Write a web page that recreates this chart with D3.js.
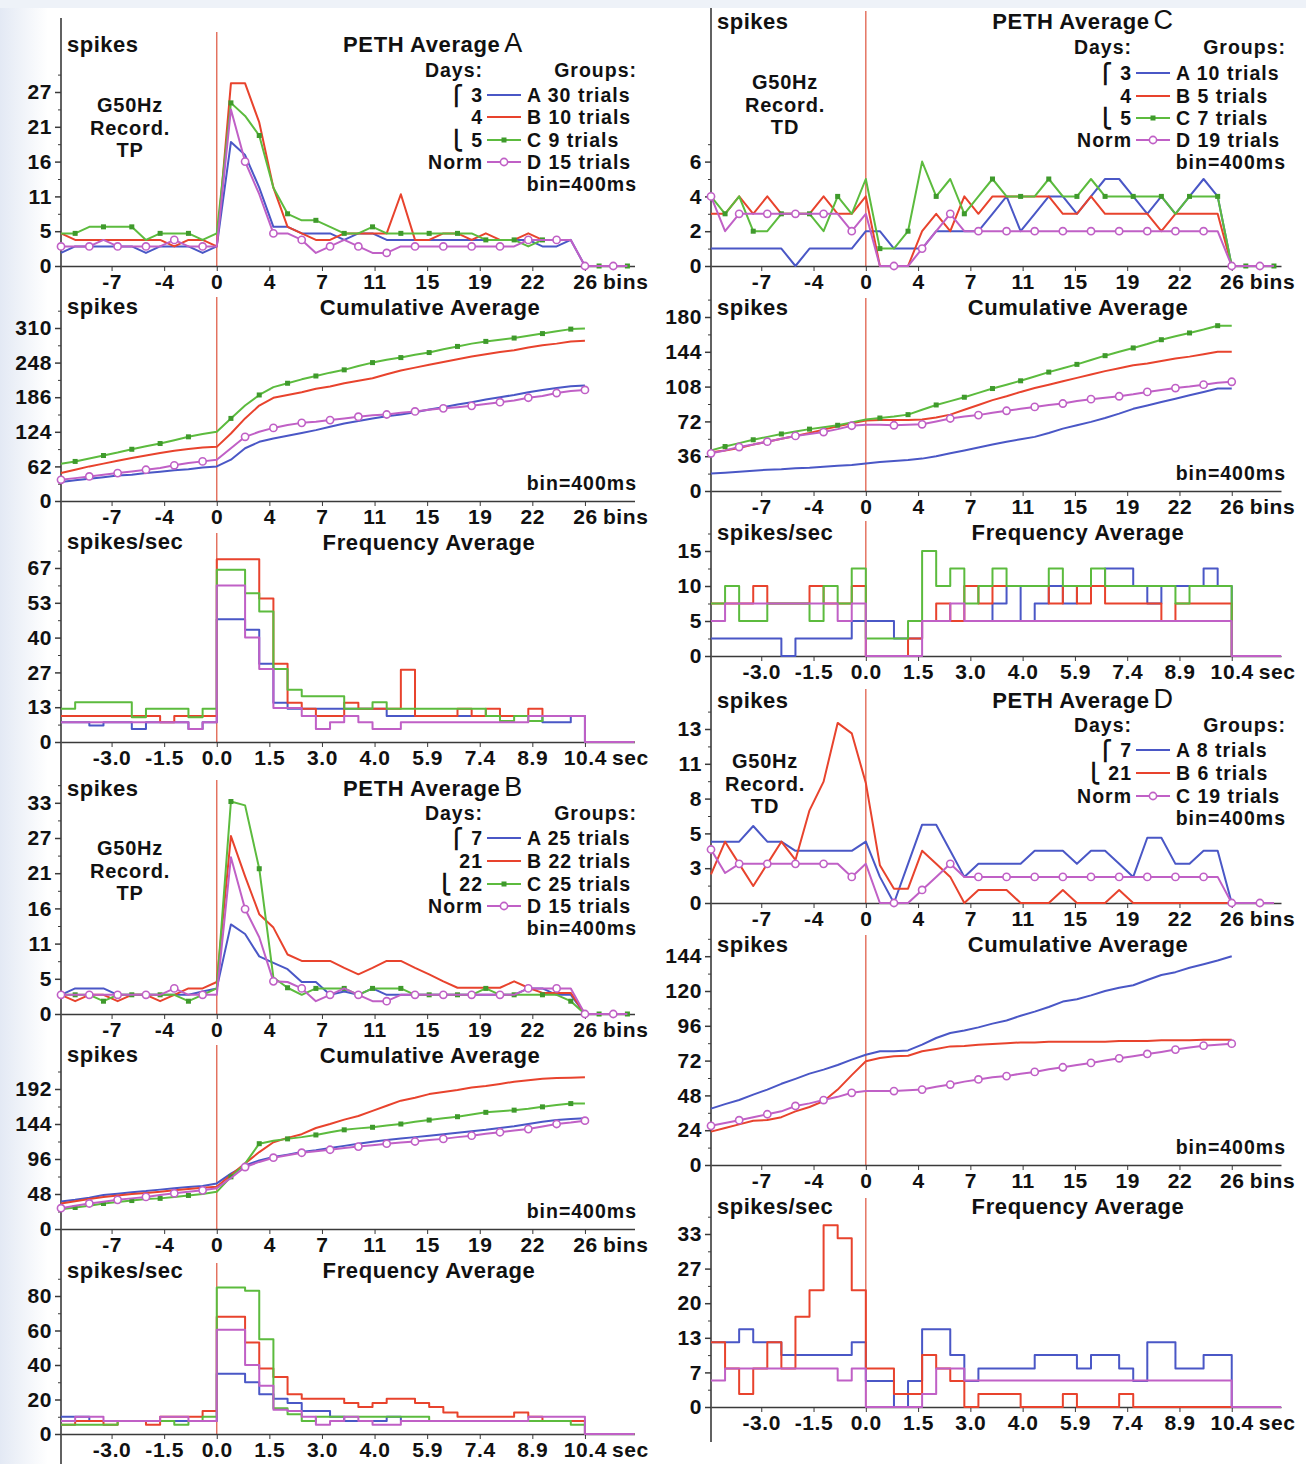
<!DOCTYPE html>
<html><head><meta charset="utf-8">
<script src="https://cdn.jsdelivr.net/npm/d3@7"></script>
<style>
body{margin:0;background:#fff;}
svg text{font-family:"Liberation Sans",Arial,"DejaVu Sans",sans-serif;font-weight:bold;fill:#111;}
</style></head><body>
<svg id="c" width="1306" height="1464"></svg>
<script>
// ---------- tick labels ----------
const binTickLabels = ["-7","-4","0","4","7","11","15","19","22","26"];
const secTickLabels = ["-3.0","-1.5","0.0","1.5","3.0","4.0","5.9","7.4","8.9","10.4"];
const yTicksPethA = ["0","5","11","16","21","27"];
const yTicksCumA  = ["0","62","124","186","248","310"];
const yTicksFreqA = ["0","13","27","40","53","67"];
const yTicksPethB = ["0","5","11","16","21","27","33"];
const yTicksCumB  = ["0","48","96","144","192"];
const yTicksFreqB = ["0","20","40","60","80"];
const yTicksPethC = ["0","2","4","6"];
const yTicksCumC  = ["0","36","72","108","144","180"];
const yTicksFreqC = ["0","5","10","15"];
const yTicksPethD = ["0","3","5","8","11","13"];
const yTicksCumD  = ["0","24","48","72","96","120","144"];
const yTicksFreqD = ["0","7","13","20","27","33"];

// ---------- PETH A (bins -11..29) ----------
const pethA_A = [2,3,3,3,3,3,2,3,3,3,2,3, 19,17,12,6,6,5,5,5,4,5,5,4,4,4,4,4,4,4,4,4,4,4,3,3,4,0,0,0,0];
const pethA_B = [5,4,4,4,4,4,4,4,3,4,4,3, 28,28,22,12,6,5,4,4,5,5,5,5,11,4,4,5,5,4,5,4,4,5,4,null,null,0,0,0,0];
const pethA_C = [5,5,6,6,6,6,4,5,5,5,4,5, 25,23,20,12,8,7,7,6,5,5,6,5,5,5,5,5,5,5,4,4,4,3,4,null,null,0,0,0,0];
const pethA_D = [3,3,3,4,3,3,3,3,4,3,3,3, 24,16,11,5,5,4,2,3,4,3,2,2,3,3,3,3,3,3,3,3,3,4,4,4,4,0,0,0,0];
// ---------- Cumulative A (bins -11..26) ----------
const cumA_A = [34,37,40,42.5,45.5,47,50,52.5,55,57,60,62, 74,94.5,106,112,117,122,127,133,139,143.5,148,152,155,159,164,168,173,177,182,186,190,195,199,202.5,205.5,207];
const cumA_B = [50,56,62,67,72,77,81.5,86,90,93,96,97, 121,148,171,185,190,195,201,205,211,215.5,220,227,234,239,244,249,254,259,263,267,270,275,279,282,286,287];
const cumA_C = [66.7,70.9,76,81.5,86.8,92.7,98,103,109,115,120,124, 148,171,190,204,211,218,224,230,235,242,248,253,257,262,266,272,277,282,286,289,292,296,300,304,308,309];
const cumA_D = [38,41,44,47,50,53,56,59,64,68,71,74, 94.5,115,124,131,136,140,142,145,148,151,153.5,155,158,160.5,163.5,166,168,170.5,174,177,180,185,188,193.5,197,199];
// ---------- Frequency A (bins -11..29) ----------
const freqA_A = [7.6,7.6,6.3,7.6,7.6,5,7.6,7.6,7.6,5,7.6, 47,47,43,30,15,12.7,12.7,12.7,12.7,12.7,12.7,12.7,10,10,10,10,10,10,10,10,10,10,10,7.6,7.6,10, 0,0,0,0];
const freqA_B = [10,10,10,10,10,10,10,7.6,10,10,10, 70,70,70,55,30,15,12.7,10,10,15,12.7,12.7,12.7,27.7,10,10,10,12.7,10,12.7,10,10,12.7,10,null,null, 0,0,0,0];
const freqA_C = [12.7,15.2,15.2,15.2,15.2,9.5,12.7,12.7,12.7,9.5,12.7, 66,66,57,50,28,20,17.5,17.5,17.5,12.7,12.7,15.2,12.7,12.7,12.7,12.7,12.7,12.7,12.7,10,8,10,8,10,null,null, 0,0,0,0];
const freqA_D = [7.6,7.6,7.6,7.6,7.6,7.6,7.6,7.6,7.6,5,7.6, 60,60,40,28,13,13,10,5,7.6,10,7.6,5,5,7.6,7.6,7.6,7.6,7.6,7.6,7.6,7.6,7.6,10,10,10,10, 0,0,0,0];

// ---------- PETH B ----------
const pethB_A = [3,4,4,4,3,3,3,3,3,3,3.5,4, 14,12.5,9,8,7,5,5,3,3.5,3,4,3,3,3,3,3,3,3,3,3,3,4,4,3,3,0,0,0,0];
const pethB_B = [3,2,3,3,2,3,3,2,3,4,4,5, 27.8,21.5,15.6,13.5,9.3,8.3,8.3,8.3,7.2,6.2,7.2,8.3,8.3,7.2,6.2,5.1,4.1,4.1,4.1,4.1,5.1,4.1,3.3,3.3,3.3,0,0,0,0];
const pethB_C = [3,3,3,2,3,3,3,3,3,2,3,4, 33.2,32.6,22.7,5.7,4.1,3,4,4,4,3,4,4,4,3,3,3,3,3,4,3,3,3,3,3,2,0,0,0,0];
const pethB_D = [3,3,3,3,3,3,3,3,4,3,3,3, 24.5,16.4,12,5.1,5,4,2,3,4,3,2,2,3,3,3,3,3,3,3,3,3,4,4,4,4,0,0,0,0];
// ---------- Cumulative B ----------
const cumB_A = [37.6,40,43,46.6,48.5,50.5,52,54,56,57.5,59,62.5, 76,87,94,98.7,102,105.5,108,111,114,117,119.5,122,124,126,128,130,132,134,136,138.5,141,144,147,149.4,151,152];
const cumB_B = [35,38,41,44,46,48,49.5,51,53,55,56.5,58, 74,90,105.5,119,125,130,138.5,144,150,155,162,169,176,180,185,188,190.6,194,196,199,202,204,206,207,207.4,208];
const cumB_C = [27,29.5,32,35,37,39,41,42,44,46,48,51, 71.5,89.6,117,121,123.6,126,129,132.7,136,138,139.5,142,144,147,149.4,152,154,157,160,161.5,163,165,167.5,170,172,172];
const cumB_D = [28.5,32,35,37.5,40,42,44,46.5,49,51,53,56, 70,85,92,97.8,101,104.6,106.5,108.7,111,113,115,117,118.5,120,122,123.6,126,128,130.5,132.7,135,137,140.5,144,146,148.5];
// ---------- Frequency B ----------
const freqB_A = [10,10,7.6,7.6,7.6,7.6,7.6,7.6,7.6,7.6,7.6, 35,35,30,23,20.5,18,13.3,13.3,10,7.6,7.6,7.6,10,7.6,7.6,7.6,7.6,7.6,7.6,7.6,7.6,7.6,7.6,7.6,7.6,7.6, 0,0,0,0];
const freqB_B = [5.3,7.6,7.6,5.3,7.6,7.6,5.3,10,10,10,13.3, 68,68,53,38,33,23,20.5,20.5,20.5,18,15.6,18,20.5,20.5,18,15.6,12.4,10,10,10,10,12.4,10,7.6,7.6,7.6, 0,0,0,0];
const freqB_C = [5.3,5.3,5.3,5.3,7.6,7.6,7.6,7.6,5.3,7.6,10, 85,85,83,55,15,11.4,7.6,10,10,10,10,10,10,10,10,7.6,7.6,7.6,7.6,7.6,7.6,7.6,7.6,7.6,7.6,5.3, 0,0,0,0];
const freqB_D = [7.6,10,10,7.6,7.6,7.6,7.6,10,10,7.6,7.6, 60.4,60.4,40,28,14,13.3,10,5.3,7.6,10,7.6,5.3,5.3,7.6,7.6,7.6,7.6,7.6,7.6,7.6,7.6,7.6,10,10,10,10, 0,0,0,0];

// ---------- PETH C ----------
const pethC_A = [1,1,1,1,1,1,0,1,1,1,1,2, 2,1,1,1,2,2,2,2,3,4,2,3,4,4,3,4,5,5,4,3,4,3,4,5,4,0,0,0,0];
const pethC_B = [3,3,4,3,4,3,3,3,4,3,3,4, 0,0,0,2,3,2,4,3,4,4,4,4,4,3,3,4,3,3,3,3,2,3,3,3,3,0,0,0,0];
const pethC_C = [4,3,4,2,2,3,3,3,2,4,3,5, 1,1,2,6,4,5,3,4,5,4,4,4,5,4,4,5,4,4,4,4,4,3,4,4,4,0,0,0,0];
const pethC_D = [4,2,3,3,3,3,3,3,3,3,2,3, 0,0,0,1,2,3,2,2,2,2,2,2,2,2,2,2,2,2,2,2,2,2,2,2,2,0,0,0,0];
// ---------- Cumulative C ----------
const cumC_A = [18,19,20,21,22,22.5,23.5,24,25,26,27,28.5, 30,31,32,33.5,36,39,42,45,48,51,53.5,56,60,64.5,68,71.5,75.5,80,85,88.5,92,95.5,99,102.5,106,106];
const cumC_B = [40,42,44.5,48,51,54,57,60,63.5,67,70,73, 73.5,73.5,73.5,74,76,79,84,89,94,98,102.5,106.5,110,113.5,117,120.5,124,127,130,132,134.5,137,139,141.5,144,144];
const cumC_C = [42,46,49.5,53,56,59,61.5,64,66,68,71,74, 75.5,77,79,84,89,93,97,101.5,106,110,114,118.5,123,127,131,135.5,140,144,148,152,156.5,160,163.5,167,171,171];
const cumC_D = [39,42,45.5,48,51,54,57,59,61,64,67.5,68.5, 68.5,68,68.5,69,72,75,77,78.5,81,83,85,87,89,90.5,93,95,96.5,98,100,102.5,104.5,106.5,108,110,112,113];
// ---------- Frequency C ----------
const freqC_A = [2.5,2.5,2.5,2.5,2.5,0,2.5,2.5,2.5,2.5,5, 5,5,2.5,2.5,5,5,5,5,5,7.5,10,5,7.5,10,7.5,10,10,12.5,12.5,10,7.5,10,10,10,12.5,10, 0,0,0,0];
const freqC_B = [7.5,7.5,7.5,10,7.5,7.5,7.5,10,7.5,7.5,10, 0,0,0,2.5,5,7.5,5,10,7.5,10,10,10,10,7.5,10,7.5,10,7.5,7.5,7.5,7.5,5,7.5,7.5,7.5,7.5, 0,0,0,0];
const freqC_C = [7.5,10,5,5,7.5,7.5,7.5,5,10,7.5,12.5, 2.5,2.5,2.5,5,15,10,12.5,7.5,10,12.5,10,10,10,12.5,10,10,12.5,10,10,10,10,10,7.5,10,10,10, 0,0,0,0];
const freqC_D = [5,7.5,7.5,7.5,7.5,7.5,7.5,7.5,7.5,5,7.5, 0,0,0,0,5,5,7.5,5,5,5,5,5,5,5,5,5,5,5,5,5,5,5,5,5,5,5, 0,0,0,0];

// ---------- PETH D ----------
const pethD_A = [4.7,4.7,4.7,5.9,4.7,4.7,4,4,4,4,4,4.7, 2,0,3,6,6,4,2,3,3,3,3,4,4,4,3,4,4,3,2,5,5,3,3,4,4,0,0,0,0];
const pethD_B = [2.2,4.7,3,1.3,3,4.7,3.3,7.1,9.3,13.8,13,9.2, 2.9,1.1,1.1,4,3,2,0,1,1,1,0,0,0,1,0,0,0,1,0,0,0,0,0,0,0,0,0,0,0];
const pethD_C = [4.1,2.3,3,3,3,3,3,3,3,3,2,3, 0,0,0,1,2,3,2,2,2,2,2,2,2,2,2,2,2,2,2,2,2,2,2,2,2,0,0,0,0];
// ---------- Cumulative D ----------
const cumD_A = [38.9,42,44.8,48.5,52,56,59.4,63,65.8,69,72.7,76, 78.4,78.5,79,83,87.6,91,92.8,94.9,97.5,99.7,102.9,105.8,109,112.7,114.3,117,120,122.3,124,127.6,131,133,136,138.5,141,144];
const cumD_B = [23,25.5,28,30.5,31,33,37,40,44,52,62,71.5, 73.8,75,75.4,78.4,80,81.8,82,83,83.5,84,84.5,84.5,85,85,85,85,85,85.5,85.5,85.5,86,86,86,86.4,86.4,86.4];
const cumD_C = [27,29,30.9,33,35,37,40.7,42.5,44.8,47,49.8,51, 51,51,51.5,52,54,55.5,57.5,59,60.5,61.3,63,64.2,66,67.4,69,70.4,72,73.6,75,76.6,78,79.6,81,82.3,83,83.7];
// ---------- Frequency D ----------
const freqD_A = [12.5,12.5,15,12.5,12.5,10,10,10,10,10,12.5, 5,5,0,5,15,15,10,5,7.4,7.4,7.4,7.4,10,10,10,7.4,10,10,7.4,5,12.5,12.5,7.4,7.4,10,10, 0,0,0,0];
const freqD_B = [12.5,7.4,2.5,7.4,12.5,7.4,17.4,22.5,35,32.5,22.5, 7.4,7.4,2.5,2.5,10,7.4,5,0,2.5,2.5,2.5,0,0,0,2.5,0,0,0,2.5,0,0,0,0,0,0,0, 0,0,0,0];
const freqD_C = [5.1,7.4,7.4,7.4,7.4,7.4,7.4,7.4,7.4,5.1,7.4, 0,0,0,0,2.5,7.4,7.4,5.1,5.1,5.1,5.1,5.1,5.1,5.1,5.1,5.1,5.1,5.1,5.1,5.1,5.1,5.1,5.1,5.1,5.1,5.1, 0,0,0,0];

// ---------- legend texts ----------
const legendA = {days:["⎧ 3","4","⎩ 5","Norm"], groups:["A 30 trials","B 10 trials","C 9 trials","D 15 trials"]};
const legendB = {days:["⎧  7","21","⎩ 22","Norm"], groups:["A 25 trials","B 22 trials","C 25 trials","D 15 trials"]};
const legendC = {days:["⎧ 3","4","⎩ 5","Norm"], groups:["A 10 trials","B 5 trials","C 7 trials","D 19 trials"]};
const legendD = {days:["⎧  7","⎩ 21","Norm"], groups:["A 8 trials","B 6 trials","C 19 trials"]};

// ---------- styling / layout ----------
const COL = {blue:"#4a57c6", red:"#e8432d", green:"#5cbb3e", purple:"#c060c6"};
const ZERO = "#e0604c", AXIS = "#3a3a3a";
const svg = d3.select("#c");
const cols = [{x0:61, x1:634.5, lineTop:18, lineBot:1464}, {x0:711, x1:1281, lineTop:8, lineBot:1442}];
const tickBins = d3.range(-2, 8).map(k => k * 26 / 7);

// soft background
const defs = svg.append("defs");
const gr = defs.append("linearGradient").attr("id","bg").attr("x1",0).attr("x2",1);
gr.append("stop").attr("offset",0).attr("stop-color","#e3e9f4");
gr.append("stop").attr("offset",1).attr("stop-color","#ffffff");
svg.append("rect").attr("width",1306).attr("height",1464).attr("fill","#fff");
svg.append("rect").attr("width",48).attr("height",1464).attr("fill","url(#bg)");
svg.append("rect").attr("width",1306).attr("height",8).attr("fill","#eef2f8");

function T(x, y, s, o = {}) {
  return svg.append("text").attr("x", x).attr("y", y).attr("dy", "0.35em")
    .attr("font-size", o.size || 20).attr("letter-spacing", o.ls == null ? 0.8 : o.ls)
    .attr("text-anchor", o.anchor || "start").text(s);
}

function isMarker(b, type) {
  const odd = Math.abs(b) % 2 === 1;
  if (b === 0) return false;
  if (type === "dot") return b < 0 ? !odd : odd;
  return b < 0 ? odd : !odd;
}

function drawPanel(p) {
  const c = cols[p.col];
  const x = d3.scaleLinear().domain([-11, 29.5]).range([c.x0, c.x1]);
  const n = p.yLabels.length - 1;
  const px = p.px || 34.8;
  const y = d3.scaleLinear().domain([0, n * p.step]).range([p.base, p.base - n * px]);
  const g = svg.append("g");
  // zero line
  g.append("line").attr("x1", x(0)).attr("x2", x(0)).attr("y1", p.top).attr("y2", p.base)
    .attr("stroke", ZERO).attr("stroke-width", 1.3);
  // y axis major
  const ya = g.append("g").attr("transform", `translate(${c.x0},0)`)
    .call(d3.axisLeft(y).tickValues(d3.range(n + 1).map(i => i * p.step))
      .tickFormat((d, i) => p.yLabels[i]).tickSize(6).tickPadding(3));
  ya.select(".domain").remove();
  ya.attr("font-size", 21).attr("color", AXIS);
  ya.selectAll("text").attr("letter-spacing", 0.6);
  ya.selectAll("line").attr("stroke-width", 1.5);
  // y axis minor
  const ym = g.append("g").attr("transform", `translate(${c.x0},0)`)
    .call(d3.axisLeft(y).tickValues(d3.range(n + 1).map(i => (i + 0.5) * p.step))
      .tickFormat("").tickSize(3));
  ym.select(".domain").remove();
  ym.attr("color", AXIS);
  // x axis
  const xa = g.append("g").attr("transform", `translate(0,${p.base})`)
    .call(d3.axisBottom(x).tickValues(tickBins)
      .tickFormat((d, i) => (p.kind === "freq" ? secTickLabels : binTickLabels)[i])
      .tickSize(5).tickSizeOuter(0).tickPadding(3));
  xa.attr("font-size", 21).attr("color", AXIS);
  xa.selectAll("text").attr("letter-spacing", 0.6);
  xa.select(".domain").attr("stroke-width", 1.6);
  T(x(26) + (p.kind === "freq" ? 27 : 18), p.base + 16, p.kind === "freq" ? "sec" : "bins", {size: 21, ls: 0.6});

  // series
  p.series.forEach(s => {
    let pts;
    if (p.kind === "freq") {
      pts = [];
      s.vals.forEach((v, i) => {
        const b = -11 + i;
        if (v == null) { pts.push(null); return; }
        pts.push([b, v]); pts.push([Math.min(b + 1, 29.5), v]);
      });
    } else {
      pts = s.vals.map((v, i) => v == null ? null : [-11 + i, v]);
    }
    const line = d3.line().defined(d => d != null).x(d => x(d[0])).y(d => y(d[1]));
    g.append("path").attr("d", line(pts)).attr("fill", "none")
      .attr("stroke", s.color).attr("stroke-width", 2).attr("stroke-linejoin", "round");
    if (s.marker && p.kind !== "freq") {
      const mk = pts.filter(d => d != null && isMarker(d[0], s.marker));
      if (s.marker === "dot") {
        g.selectAll(null).data(mk).enter().append("rect")
          .attr("x", d => x(d[0]) - 2.5).attr("y", d => y(d[1]) - 2.5)
          .attr("width", 5).attr("height", 5).attr("fill", "#3f9a2c");
      } else {
        g.selectAll(null).data(mk).enter().append("circle")
          .attr("cx", d => x(d[0])).attr("cy", d => y(d[1])).attr("r", 3.6)
          .attr("fill", "#fff").attr("stroke", s.color).attr("stroke-width", 1.6);
      }
    }
  });
  // unit label
  T(c.x0 + 6, p.labY, p.kind === "freq" ? "spikes/sec" : "spikes", {size: 22, ls: 0.5});
}

function title(cx, y, main, letter) {
  const t = T(cx, y, "", {anchor: "middle", size: 22, ls: 0.6});
  t.append("tspan").text(main);
  if (letter) t.append("tspan").attr("font-size", 27).attr("font-weight", "normal").attr("dx", 4).text(letter);
}

function legend(L, xd, headY, rowsY, binY, right, colors, markers) {
  const o = {size: 19.5, ls: 1};
  T(xd, headY, "Days:", Object.assign({anchor: "end"}, o));
  T(right, headY, "Groups:", Object.assign({anchor: "end"}, o));
  L.days.forEach((d, i) => {
    T(xd, rowsY[i], d, Object.assign({anchor: "end"}, o));
    svg.append("line").attr("x1", xd + 4).attr("x2", xd + 38).attr("y1", rowsY[i]).attr("y2", rowsY[i])
      .attr("stroke", colors[i]).attr("stroke-width", 2);
    if (markers[i] === "dot") svg.append("rect").attr("x", xd + 18.5).attr("y", rowsY[i] - 2.5)
      .attr("width", 5).attr("height", 5).attr("fill", "#3f9a2c");
    if (markers[i] === "circle") svg.append("circle").attr("cx", xd + 21).attr("cy", rowsY[i]).attr("r", 3.6)
      .attr("fill", "#fff").attr("stroke", colors[i]).attr("stroke-width", 1.6);
    T(xd + 44, rowsY[i], L.groups[i], o);
  });
  T(right, binY, "bin=400ms", Object.assign({anchor: "end"}, o));
}

function rec(cx, y0, site) {
  const o = {anchor: "middle", size: 20, ls: 0.8};
  T(cx, y0, "G50Hz", o);
  T(cx, y0 + 22.5, "Record.", o);
  T(cx, y0 + 45, site, o);
}

// column lines
cols.forEach(c => svg.append("line").attr("x1", c.x0).attr("x2", c.x0).attr("y1", c.lineTop).attr("y2", c.lineBot)
  .attr("stroke", AXIS).attr("stroke-width", 1.6));

const S4 = (a, b, c, d) => [
  {vals: a, color: COL.blue}, {vals: b, color: COL.red},
  {vals: c, color: COL.green, marker: "dot"}, {vals: d, color: COL.purple, marker: "circle"}];
const S3 = (a, b, c) => [
  {vals: a, color: COL.blue}, {vals: b, color: COL.red}, {vals: c, color: COL.purple, marker: "circle"}];

const panels = [
  {col: 0, kind: "peth", base: 266, top: 32, step: 16 / 3, yLabels: yTicksPethA, labY: 44, series: S4(pethA_A, pethA_B, pethA_C, pethA_D)},
  {col: 0, kind: "cum", base: 501, top: 297, step: 62, px: 34.6, yLabels: yTicksCumA, labY: 306, series: S4(cumA_A, cumA_B, cumA_C, cumA_D)},
  {col: 0, kind: "freq", base: 742, top: 533, step: 40 / 3, yLabels: yTicksFreqA, labY: 541, series: S4(freqA_A, freqA_B, freqA_C, freqA_D)},
  {col: 0, kind: "peth", base: 1014, top: 780, step: 5.5, px: 35.2, yLabels: yTicksPethB, labY: 788, series: S4(pethB_A, pethB_B, pethB_C, pethB_D)},
  {col: 0, kind: "cum", base: 1229, top: 1045, step: 48, px: 35, yLabels: yTicksCumB, labY: 1054, series: S4(cumB_A, cumB_B, cumB_C, cumB_D)},
  {col: 0, kind: "freq", base: 1434, top: 1263, step: 20, px: 34.5, yLabels: yTicksFreqB, labY: 1270, series: S4(freqB_A, freqB_B, freqB_C, freqB_D)},
  {col: 1, kind: "peth", base: 266, top: 11, step: 2, yLabels: yTicksPethC, labY: 21, series: S4(pethC_A, pethC_B, pethC_C, pethC_D)},
  {col: 1, kind: "cum", base: 491, top: 298, step: 36, yLabels: yTicksCumC, labY: 307, series: S4(cumC_A, cumC_B, cumC_C, cumC_D)},
  {col: 1, kind: "freq", base: 656, top: 521, step: 5, px: 35, yLabels: yTicksFreqC, labY: 532, series: S4(freqC_A, freqC_B, freqC_C, freqC_D)},
  {col: 1, kind: "peth", base: 903, top: 689, step: 8 / 3, yLabels: yTicksPethD, labY: 700, series: S3(pethD_A, pethD_B, pethD_C)},
  {col: 1, kind: "cum", base: 1165, top: 935, step: 24, yLabels: yTicksCumD, labY: 944, series: S3(cumD_A, cumD_B, cumD_C)},
  {col: 1, kind: "freq", base: 1407, top: 1198, step: 20 / 3, px: 34.6, yLabels: yTicksFreqD, labY: 1206, series: S3(freqD_A, freqD_B, freqD_C)}
];
panels.forEach(drawPanel);

// titles
title(433, 44, "PETH Average", "A");
title(430, 307, "Cumulative Average");
title(429, 542, "Frequency Average");
title(433, 788, "PETH Average", "B");
title(430, 1055, "Cumulative Average");
title(429, 1270, "Frequency Average");
title(1083, 21, "PETH Average", "C");
title(1078, 307, "Cumulative Average");
title(1078, 532, "Frequency Average");
title(1083, 700, "PETH Average", "D");
title(1078, 944, "Cumulative Average");
title(1078, 1206, "Frequency Average");

// legends
const c4 = [COL.blue, COL.red, COL.green, COL.purple], m4 = [null, null, "dot", "circle"];
legend(legendA, 483, 70, [95, 117, 140, 162], 184, 637, c4, m4);
legend(legendB, 483, 813, [838, 861, 884, 906], 928, 637, c4, m4);
legend(legendC, 1132, 47, [73, 96, 118, 140], 162, 1286, c4, m4);
legend(legendD, 1132, 725, [750, 773, 796], 818, 1286, [COL.blue, COL.red, COL.purple], [null, null, "circle"]);

// bin=400ms on cumulative panels
const bo = {anchor: "end", size: 19.5, ls: 1};
T(637, 483, "bin=400ms", bo);
T(637, 1211, "bin=400ms", bo);
T(1286, 473, "bin=400ms", bo);
T(1286, 1147, "bin=400ms", bo);

// recording labels
rec(130, 105, "TP");
rec(130, 848, "TP");
rec(785, 82, "TD");
rec(765, 761, "TD");
</script></body></html>
